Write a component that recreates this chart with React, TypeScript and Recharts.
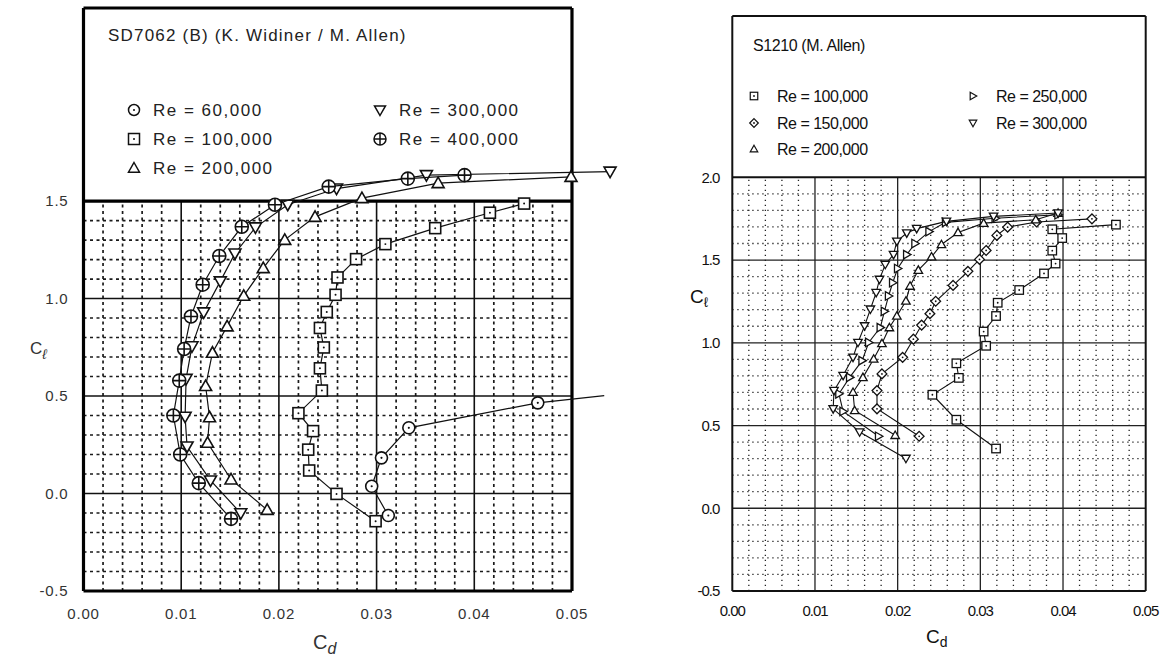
import React from 'react';
import { ComposedChart, Scatter, XAxis, YAxis, ReferenceLine } from 'recharts';

type Pt = [number, number];

// ---- SD7062 (B) polars, [Cd, Cl] ----
const sd60k: Pt[] = [
  [0.0312, -0.113], [0.0295, 0.037], [0.0305, 0.183], [0.0333, 0.337], [0.0465, 0.465],
];
const sd60kTail: Pt[] = [[0.0465, 0.465], [0.0533, 0.502]];
const sd100k: Pt[] = [
  [0.0299, -0.142], [0.0259, -0.002], [0.0231, 0.118], [0.023, 0.225], [0.0235, 0.32],
  [0.022, 0.412], [0.0244, 0.528], [0.0242, 0.642], [0.0246, 0.749], [0.0242, 0.849],
  [0.0249, 0.931], [0.0258, 1.019], [0.026, 1.108], [0.0279, 1.202], [0.0309, 1.279],
  [0.036, 1.361], [0.0416, 1.44], [0.0451, 1.487],
];
const sd200k: Pt[] = [
  [0.0188, -0.084], [0.0151, 0.072], [0.0127, 0.26], [0.0129, 0.391], [0.0125, 0.551],
  [0.0132, 0.722], [0.0147, 0.857], [0.0164, 1.014], [0.0184, 1.156], [0.0206, 1.301],
  [0.0237, 1.419], [0.0285, 1.515], [0.0363, 1.592], [0.0499, 1.624],
];
const sd300k: Pt[] = [
  [0.0161, -0.101], [0.013, 0.067], [0.0106, 0.241], [0.0104, 0.394], [0.0105, 0.588],
  [0.0111, 0.755], [0.0123, 0.929], [0.014, 1.088], [0.0155, 1.231], [0.0176, 1.365],
  [0.0209, 1.481], [0.0259, 1.564], [0.0351, 1.633], [0.0539, 1.651],
];
const sd400k: Pt[] = [
  [0.0151, -0.13], [0.0118, 0.053], [0.0099, 0.2], [0.0092, 0.4], [0.0098, 0.579],
  [0.0103, 0.741], [0.011, 0.908], [0.0122, 1.071], [0.0139, 1.218], [0.0162, 1.368],
  [0.0196, 1.481], [0.0251, 1.574], [0.0332, 1.615], [0.039, 1.633],
];

// ---- S1210 polars, [Cd, Cl] ----
const s100k: Pt[] = [
  [0.0319, 0.361], [0.0271, 0.535], [0.0242, 0.686], [0.0274, 0.788], [0.0271, 0.876],
  [0.0307, 0.982], [0.0304, 1.068], [0.0319, 1.162], [0.0321, 1.242], [0.0347, 1.319],
  [0.0377, 1.419], [0.0391, 1.479], [0.0387, 1.557], [0.0399, 1.633], [0.0387, 1.686],
  [0.0464, 1.714],
];
const s150k: Pt[] = [
  [0.0226, 0.435], [0.0175, 0.601], [0.0175, 0.711], [0.0181, 0.812], [0.0206, 0.912],
  [0.0219, 1.022], [0.0229, 1.107], [0.0239, 1.176], [0.0246, 1.251], [0.0267, 1.347],
  [0.0285, 1.432], [0.0299, 1.504], [0.0307, 1.558], [0.032, 1.649], [0.0333, 1.699],
  [0.0368, 1.73], [0.0435, 1.749],
];
const s200k: Pt[] = [
  [0.0197, 0.441], [0.0148, 0.591], [0.0146, 0.701], [0.0158, 0.791], [0.0171, 0.902],
  [0.0181, 0.996], [0.019, 1.092], [0.0199, 1.162], [0.021, 1.253], [0.0215, 1.343],
  [0.0225, 1.439], [0.0241, 1.52], [0.0253, 1.594], [0.0273, 1.667], [0.0304, 1.723],
  [0.0367, 1.744], [0.0394, 1.784],
];
const s250k: Pt[] = [
  [0.0177, 0.435], [0.0134, 0.585], [0.0129, 0.692], [0.0142, 0.791], [0.0157, 0.892],
  [0.0165, 1.002], [0.0179, 1.092], [0.0184, 1.19], [0.0189, 1.283], [0.0194, 1.363],
  [0.02, 1.449], [0.0211, 1.533], [0.0221, 1.6], [0.0238, 1.672], [0.0258, 1.728],
  [0.0318, 1.753], [0.0394, 1.774],
];
const s300k: Pt[] = [
  [0.021, 0.301], [0.0154, 0.461], [0.0122, 0.601], [0.0123, 0.711], [0.0134, 0.802],
  [0.0146, 0.912], [0.0152, 1.002], [0.016, 1.102], [0.0167, 1.203], [0.0174, 1.303],
  [0.0178, 1.383], [0.0185, 1.473], [0.0195, 1.533], [0.0199, 1.613], [0.0211, 1.663],
  [0.0223, 1.69], [0.0259, 1.734], [0.0316, 1.764], [0.0394, 1.784],
];

// ticks / grid positions
const xTicks = [0, 0.01, 0.02, 0.03, 0.04, 0.05];
const xMajor = [0.01, 0.02, 0.03, 0.04];
const xMinor = [
  0.002, 0.004, 0.006, 0.008, 0.012, 0.014, 0.016, 0.018, 0.022, 0.024,
  0.026, 0.028, 0.032, 0.034, 0.036, 0.038, 0.042, 0.044, 0.046, 0.048,
];
const leftYTicks = [-0.5, 0, 0.5, 1.0, 1.5];
const leftYMajor = [0, 0.5, 1.0];
const leftYMinor = [
  -0.4, -0.3, -0.2, -0.1, 0.1, 0.2, 0.3, 0.4, 0.6, 0.7, 0.8, 0.9, 1.1, 1.2, 1.3, 1.4,
];
const rightYTicks = [-0.5, 0, 0.5, 1.0, 1.5, 2.0];
const rightYMajor = [0, 0.5, 1.0, 1.5];
const rightYMinor = [
  -0.4, -0.3, -0.2, -0.1, 0.1, 0.2, 0.3, 0.4, 0.6, 0.7, 0.8, 0.9,
  1.1, 1.2, 1.3, 1.4, 1.6, 1.7, 1.8, 1.9,
];

const toXY = (pts: Pt[]) => pts.map(([cd, cl]) => ({ cd, cl }));

const FONT = '"Liberation Sans", Arial, Helvetica, sans-serif';

type Kind = 'circleDot' | 'squareDot' | 'triUp' | 'triDown' | 'circlePlus' | 'diamondDot' | 'triRight' | 'none';

function marker(kind: Kind, cx: number, cy: number, s: number, sw: number, key?: string) {
  const st = { fill: '#fff', stroke: '#111', strokeWidth: sw };
  const h = s / 2;
  const dot = <circle cx={cx} cy={cy} r={Math.max(0.9, s * 0.09)} fill="#111" />;
  switch (kind) {
    case 'circleDot':
      return <g key={key}><circle cx={cx} cy={cy} r={h} {...st} />{dot}</g>;
    case 'squareDot':
      return <g key={key}><rect x={cx - h} y={cy - h} width={s} height={s} {...st} />{dot}</g>;
    case 'diamondDot':
      return (
        <g key={key}>
          <polygon points={`${cx},${cy - h * 1.15} ${cx + h * 1.15},${cy} ${cx},${cy + h * 1.15} ${cx - h * 1.15},${cy}`} {...st} />
          {dot}
        </g>
      );
    case 'circlePlus':
      return (
        <g key={key}>
          <circle cx={cx} cy={cy} r={h} {...st} />
          <line x1={cx - h} y1={cy} x2={cx + h} y2={cy} stroke="#111" strokeWidth={sw} />
          <line x1={cx} y1={cy - h} x2={cx} y2={cy + h} stroke="#111" strokeWidth={sw} />
        </g>
      );
    case 'triUp':
      return <polygon key={key} points={`${cx},${cy - h * 1.0} ${cx + h},${cy + h * 0.75} ${cx - h},${cy + h * 0.75}`} {...st} />;
    case 'triDown':
      return <polygon key={key} points={`${cx},${cy + h * 1.0} ${cx + h},${cy - h * 0.75} ${cx - h},${cy - h * 0.75}`} {...st} />;
    case 'triRight':
      return <polygon key={key} points={`${cx + h},${cy} ${cx - h * 0.75},${cy - h} ${cx - h * 0.75},${cy + h}`} {...st} />;
    default:
      return <g key={key} />;
  }
}

const shapeOf = (kind: Kind, s: number, sw: number) => (p: any) => marker(kind, p.cx, p.cy, s, sw);

const vSeg = (x: number, y0: number, y1: number) => [{ x, y: y0 }, { x, y: y1 }];
const hSeg = (y: number, x0: number, x1: number) => [{ x: x0, y }, { x: x1, y }];

const lineStyle = { stroke: '#111', strokeWidth: 1.2 };

const LeftChart = () => {
  const top = 2.49;
  const minorStyle = { stroke: '#1a1a1a', strokeWidth: 1.7, strokeDasharray: '3 3.5' };
  const majorStyle = { stroke: '#111', strokeWidth: 1.6 };
  const frame = { stroke: '#000', strokeWidth: 3.2 };
  const series: [Pt[], Kind][] = [
    [sd60k, 'circleDot'],
    [sd100k, 'squareDot'],
    [sd200k, 'triUp'],
    [sd300k, 'triDown'],
    [sd400k, 'circlePlus'],
  ];
  return (
    <ComposedChart width={640} height={661} margin={{ top: 8, right: 9.4, bottom: 0, left: 0 }}>
      <XAxis
        type="number" dataKey="cd" domain={[0, 0.056]} ticks={xTicks} interval={0}
        tickFormatter={(v: number) => v.toFixed(2)} tickLine={false} axisLine={false}
        tickSize={0} tickMargin={17} height={70} allowDataOverflow
        tick={{ fontSize: 15, fill: '#333', fontFamily: FONT, letterSpacing: 0.8 }}
      />
      <YAxis
        type="number" dataKey="cl" domain={[-0.5, top]} ticks={leftYTicks} interval={0}
        tickFormatter={(v: number) => v.toFixed(1)} tickLine={false} axisLine={false}
        tickSize={0} tickMargin={15} width={83.5} allowDataOverflow
        tick={{ fontSize: 15, fill: '#333', fontFamily: FONT, letterSpacing: 0.8 }}
      />
      {xMinor.map((x) => (
        <ReferenceLine key={'xm' + x} segment={vSeg(x, -0.5, 1.5)} {...minorStyle} />
      ))}
      {leftYMinor.map((y) => (
        <ReferenceLine key={'ym' + y} segment={hSeg(y, 0, 0.05)} {...minorStyle} />
      ))}
      {xMajor.map((x) => (
        <ReferenceLine key={'xM' + x} segment={vSeg(x, -0.5, 1.5)} {...majorStyle} />
      ))}
      {leftYMajor.map((y) => (
        <ReferenceLine key={'yM' + y} segment={hSeg(y, 0, 0.05)} {...majorStyle} />
      ))}
      <ReferenceLine segment={hSeg(1.5, 0, 0.05)} {...frame} />
      <ReferenceLine segment={hSeg(-0.5, 0, 0.05)} {...frame} />
      <ReferenceLine segment={hSeg(top, 0, 0.05)} {...frame} />
      <ReferenceLine segment={vSeg(0, -0.5, top)} {...frame} />
      <ReferenceLine segment={vSeg(0.05, -0.5, top)} {...frame} />
      <Scatter data={toXY(sd60kTail)} line={lineStyle} shape={shapeOf('none', 0, 0)} isAnimationActive={false} />
      {series.map(([pts, kind], i) => (
        <Scatter
          key={'s' + i} data={toXY(pts)} line={lineStyle} lineJointType="linear"
          shape={shapeOf(kind, kind === 'squareDot' ? 11 : kind === 'circlePlus' ? 13 : 12, 1.6)}
          isAnimationActive={false}
        />
      ))}
    </ComposedChart>
  );
};

const RightChart = () => {
  const top = 2.975;
  const minorStyle = { stroke: '#222', strokeWidth: 1.3, strokeDasharray: '1.3 3.7' };
  const majorStyle = { stroke: '#222', strokeWidth: 1.3 };
  const frame = { stroke: '#111', strokeWidth: 2 };
  const series: [Pt[], Kind][] = [
    [s100k, 'squareDot'],
    [s150k, 'diamondDot'],
    [s200k, 'triUp'],
    [s250k, 'triRight'],
    [s300k, 'triDown'],
  ];
  return (
    <ComposedChart width={524} height={661} margin={{ top: 16, right: 18.3, bottom: 0, left: 0 }}>
      <XAxis
        type="number" dataKey="cd" domain={[0, 0.05]} ticks={xTicks} interval={0}
        tickFormatter={(v: number) => v.toFixed(2)} tickLine={false} axisLine={false}
        tickSize={0} tickMargin={14} height={70} allowDataOverflow
        tick={{ fontSize: 15, fill: '#111', fontFamily: FONT, letterSpacing: -1 }}
      />
      <YAxis
        type="number" dataKey="cl" domain={[-0.5, top]} ticks={rightYTicks} interval={0}
        tickFormatter={(v: number) => v.toFixed(1)} tickLine={false} axisLine={false}
        tickSize={0} tickMargin={13} width={92.3} allowDataOverflow
        tick={{ fontSize: 15, fill: '#111', fontFamily: FONT, letterSpacing: -1 }}
      />
      {xMinor.map((x) => (
        <ReferenceLine key={'xm' + x} segment={vSeg(x, -0.5, 2.0)} {...minorStyle} />
      ))}
      {rightYMinor.map((y) => (
        <ReferenceLine key={'ym' + y} segment={hSeg(y, 0, 0.05)} {...minorStyle} />
      ))}
      {xMajor.map((x) => (
        <ReferenceLine key={'xM' + x} segment={vSeg(x, -0.5, 2.0)} {...majorStyle} />
      ))}
      {rightYMajor.map((y) => (
        <ReferenceLine key={'yM' + y} segment={hSeg(y, 0, 0.05)} {...majorStyle} />
      ))}
      <ReferenceLine segment={hSeg(2.0, 0, 0.05)} {...frame} />
      <ReferenceLine segment={hSeg(-0.5, 0, 0.05)} {...frame} />
      <ReferenceLine segment={hSeg(top, 0, 0.05)} {...frame} />
      <ReferenceLine segment={vSeg(0, -0.5, top)} {...frame} />
      <ReferenceLine segment={vSeg(0.05, -0.5, top)} {...frame} />
      {series.map(([pts, kind], i) => (
        <Scatter
          key={'s' + i} data={toXY(pts)} line={{ stroke: '#111', strokeWidth: 1.1 }} lineJointType="linear"
          shape={shapeOf(kind, 8.5, 1.3)}
          isAnimationActive={false}
        />
      ))}
    </ComposedChart>
  );
};

const leftLegend: [string, Kind, number, number][] = [
  ['Re = 60,000', 'circleDot', 134, 110],
  ['Re = 100,000', 'squareDot', 134, 139],
  ['Re = 200,000', 'triUp', 134, 168],
  ['Re = 300,000', 'triDown', 380, 110],
  ['Re = 400,000', 'circlePlus', 380, 139],
];
const rightLegend: [string, Kind, number, number][] = [
  ['Re = 100,000', 'squareDot', 754, 96],
  ['Re = 150,000', 'diamondDot', 754, 123],
  ['Re = 200,000', 'triUp', 754, 149],
  ['Re = 250,000', 'triRight', 973, 96],
  ['Re = 300,000', 'triDown', 973, 123],
];

const Overlay = () => (
  <svg width={1164} height={661} style={{ position: 'absolute', left: 0, top: 0, pointerEvents: 'none' }}>
    <text x={108} y={35} dominantBaseline="central" fontFamily={FONT} fontSize={17} letterSpacing={1.2} fill="#222">
      SD7062 (B)  (K. Widiner / M. Allen)
    </text>
    {leftLegend.map(([label, kind, x, y]) => (
      <g key={'ll' + label}>
        {marker(kind, x, y, kind === 'circlePlus' ? 12 : 11, 1.5)}
        <text x={x + 19} y={y} dominantBaseline="central" fontFamily={FONT} fontSize={17} letterSpacing={1.5} fill="#222">
          {label}
        </text>
      </g>
    ))}
    <text x={313} y={642} dominantBaseline="central" fontFamily={FONT} fontSize={20} fill="#333">
      C<tspan fontStyle="italic" fontSize={16} dy={6}>d</tspan>
    </text>
    <text x={30} y={348} dominantBaseline="central" fontFamily={FONT} fontSize={17} fill="#333">
      C<tspan fontStyle="italic" fontSize={14} dy={6}>ℓ</tspan>
    </text>

    <text x={753} y={45} dominantBaseline="central" fontFamily={FONT} fontSize={16} letterSpacing={-0.4} fill="#111">
      S1210  (M. Allen)
    </text>
    {rightLegend.map(([label, kind, x, y]) => (
      <g key={'rl' + label}>
        {marker(kind, x, y, 7.5, 1.2)}
        <text x={x + 23} y={y} dominantBaseline="central" fontFamily={FONT} fontSize={16} letterSpacing={-0.5} fill="#111">
          {label}
        </text>
      </g>
    ))}
    <text x={926} y={636} dominantBaseline="central" fontFamily={FONT} fontSize={19} fill="#111">
      C<tspan fontSize={14} dy={6}>d</tspan>
    </text>
    <text x={690} y={296} dominantBaseline="central" fontFamily={FONT} fontSize={19} fill="#111">
      C<tspan fontSize={14} dy={6}>ℓ</tspan>
    </text>
  </svg>
);

export default function App() {
  return (
    <div style={{ position: 'absolute', left: 0, top: 0, width: 1164, height: 661, background: '#fff', fontFamily: FONT }}>
      <div style={{ position: 'absolute', left: 0, top: 0 }}>
        <LeftChart />
      </div>
      <div style={{ position: 'absolute', left: 640, top: 0 }}>
        <RightChart />
      </div>
      <Overlay />
    </div>
  );
}
